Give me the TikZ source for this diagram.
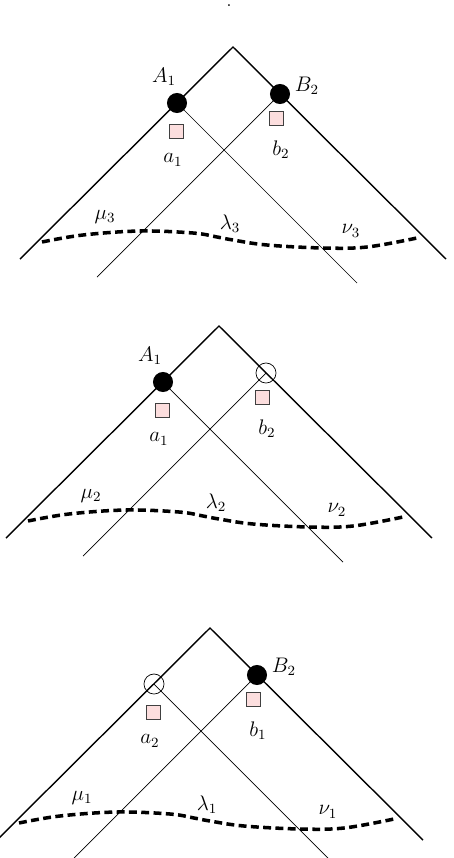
\documentclass[tikz,border=0pt]{standalone}
\usepackage{tikz}

\definecolor{rosa}{RGB}{252,222,222}
\tikzset{
  borda/.style={line width=0.8pt},
  raio/.style={line width=0.4pt},
  curva/.style={line width=2pt, dash pattern=on 4.5pt off 2.5pt},
  cheio/.style={circle, fill=black, minimum size=11.4pt, inner sep=0pt},
  vazio/.style={circle, draw=black, line width=0.4pt, minimum size=11.4pt, inner sep=0pt},
  caixa/.style={rectangle, draw=black!75, fill=rosa, line width=0.4pt, minimum size=8pt, inner sep=0pt}
}

\begin{document}
\begin{tikzpicture}[x=0.569pt,y=0.569pt,every node/.style={font=\large}]
    % moldura
    \useasboundingbox (0,0) rectangle (454,-858);
    \clip (0,0) rectangle (454,-858);

    % ponto solto no topo
    \node[inner sep=0pt, font=\normalsize] (ponto) at (229,-6) {.};

    % os tres cones
    \foreach \ax/\ay/\ea/\eb/\na/\nb/\ia/\ib/\k in {
        233/-47/cheio/cheio/{$A_1$}/{$B_2$}/1/2/3,
        219/-326/cheio/vazio/{$A_1$}/{}/1/2/2,
        210/-628/vazio/cheio/{}/{$B_2$}/2/1/1}{
      \begin{scope}[shift={(\ax,\ay)}]
        % cone
        \coordinate (V\k) at (0,0);
        \coordinate (L\k) at (-213,-212);
        \coordinate (R\k) at (213,-212);
        \draw[borda] (L\k) -- (V\k) -- (R\k);

        % raios internos
        \coordinate (fa\k) at (124,-236);
        \coordinate (fb\k) at (-136,-230);
        \draw[raio] (-56,-56) -- (fa\k);
        \draw[raio] (47,-47) -- (fb\k);

        % curva tracejada
        \draw[curva] plot[smooth, tension=0.6] coordinates {(-191,-195) (-150,-188)
          (-93,-184) (-40,-186) (-16,-190) (0,-193) (34,-198) (90,-201)
          (134,-200) (184,-191)};

        % particulas
        \node[\ea] (pa\k) at (-56,-56) {};
        \node[\eb] (pb\k) at (47,-47) {};

        % caixas
        \node[caixa] (qa\k) at (-57,-84) {};
        \node[caixa] (qb\k) at (43,-71) {};

        % rotulos
        \node (na\k) at (-69,-30) {\na};
        \node (nb\k) at (74,-39) {\nb};
        \node (ta\k) at (-60,-113) {$a_\ia$};
        \node (tb\k) at (48,-103) {$b_\ib$};
        \node (mu\k) at (-128,-170) {$\mu_\k$};
        \node (la\k) at (-3,-177) {$\lambda_\k$};
        \node (nu\k) at (118,-184) {$\nu_\k$};
      \end{scope}
    }
\end{tikzpicture}
\end{document}
